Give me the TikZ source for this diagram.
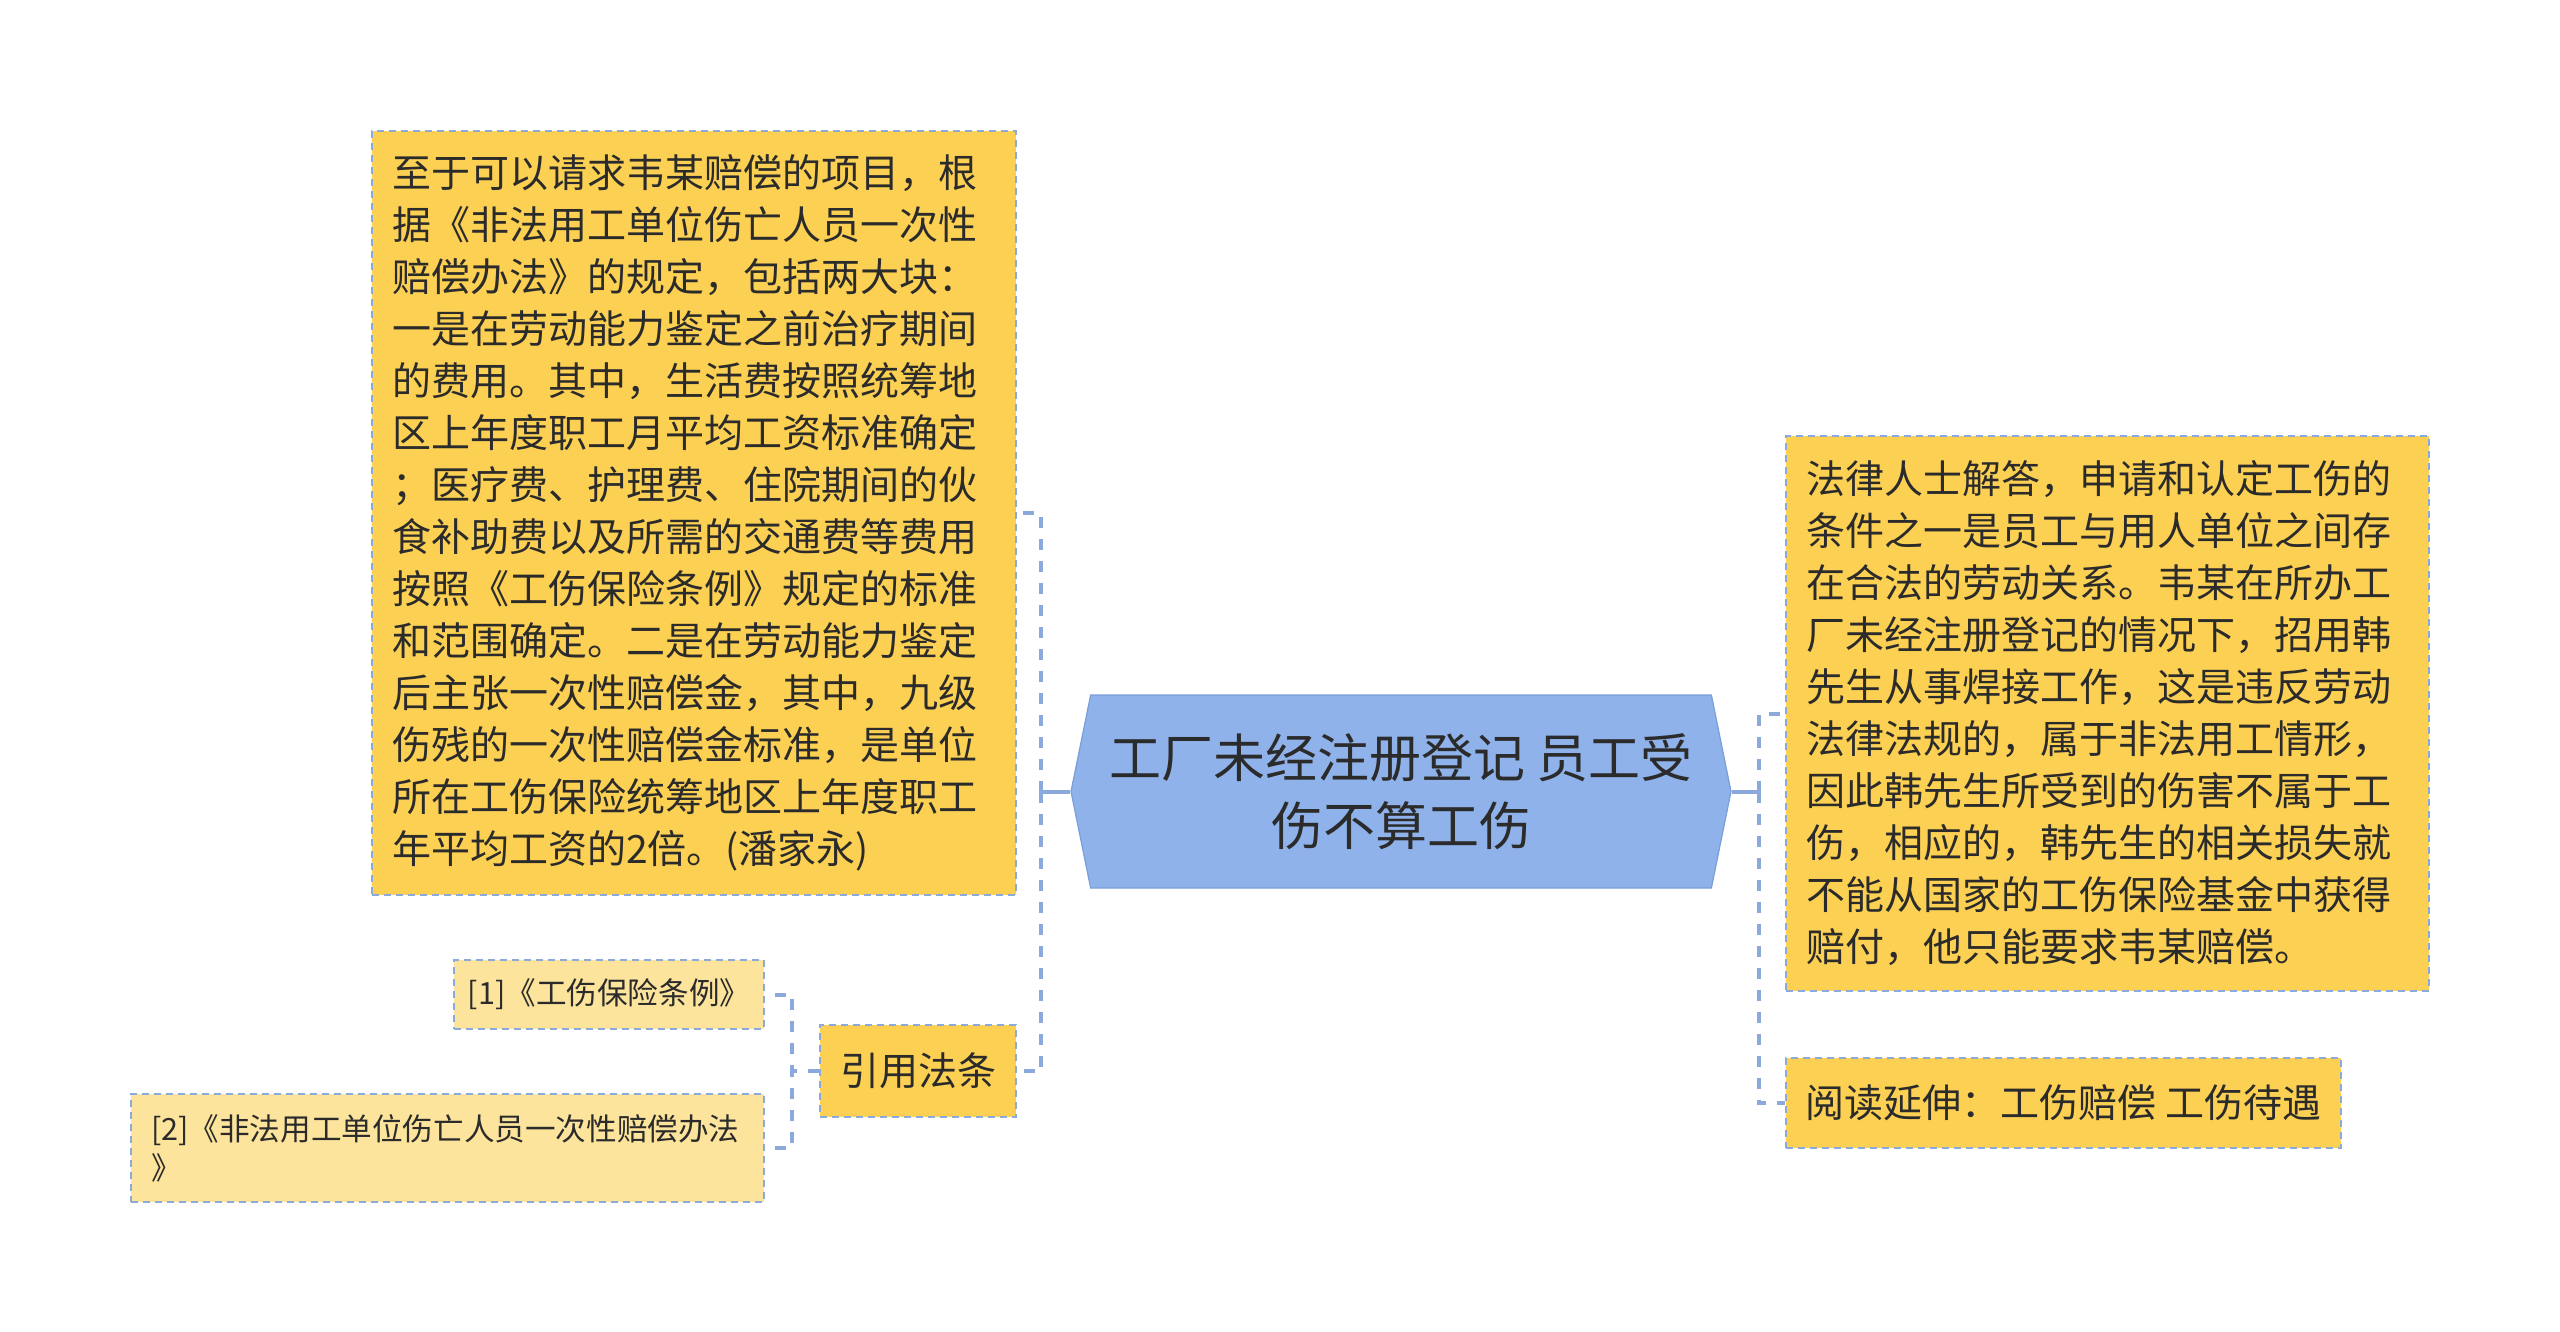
\documentclass[tikz,border=0pt]{standalone}
\usepackage{fontspec}
\setmainfont{Noto Sans CJK SC}
\usetikzlibrary{shapes.symbols}
\definecolor{boxfill}{HTML}{FCD053}
\definecolor{reffill}{HTML}{FDE49C}
\definecolor{rootfill}{HTML}{8FB2EA}
\definecolor{rootline}{HTML}{7A9ED8}
\definecolor{linkblue}{HTML}{8BAADB}
\definecolor{textdark}{HTML}{2B2B2B}
\begin{document}
\begin{tikzpicture}[x=1pt, y=-1pt, text=textdark,
	topic/.style={draw=linkblue, dash pattern=on 3.5pt off 2.5pt, line width=1pt, fill=boxfill, inner xsep=10pt, inner ysep=0pt, font=\fontsize{19.5}{26}\selectfont},
	bigtopic/.style={topic, align=left},
	reftopic/.style={topic, fill=reffill, font=\fontsize{15.3}{19.6}\selectfont, align=left},
	rootnode/.style={signal, signal to=west and east, signal pointer angle=157, draw=rootline, line width=.6pt, fill=rootfill, inner sep=0pt, align=center, font=\fontsize{26}{34}\selectfont},
	stub/.style={draw=linkblue, line width=2pt},
	link/.style={stub, dash pattern=on 5.5pt off 5.5pt}]
	\useasboundingbox (0,0) rectangle (1280,666);
	\node[rootnode, minimum width=330pt, minimum height=96.5pt] (root) at (700.5,395.75) {工厂未经注册登记 员工受\\伤不算工伤};
	\node[bigtopic, text width=302pt, minimum height=382pt] (detail) at (347,256.5) {至于可以请求韦某赔偿的项目，根\\据《非法用工单位伤亡人员一次性\\赔偿办法》的规定，包括两大块：\\一是在劳动能力鉴定之前治疗期间\\的费用。其中，生活费按照统筹地\\区上年度职工月平均工资标准确定\\；医疗费、护理费、住院期间的伙\\食补助费以及所需的交通费等费用\\按照《工伤保险条例》规定的标准\\和范围确定。二是在劳动能力鉴定\\后主张一次性赔偿金，其中，九级\\伤残的一次性赔偿金标准，是单位\\所在工伤保险统筹地区上年度职工\\年平均工资的2倍。(潘家永)};
	\node[topic, minimum width=98pt, minimum height=46pt, inner xsep=0pt] (refs) at (459,535.5) {引用法条};
	\node[reftopic, minimum width=155pt, minimum height=34.5pt, inner xsep=0pt] (ref1) at (304.5,497.25) {[1]《工伤保险条例》};
	\node[reftopic, text width=296.5pt, minimum height=54pt] (ref2) at (223.75,574) {[2]《非法用工单位伤亡人员一次性赔偿办法\\》};
	\node[bigtopic, text width=301.5pt, minimum height=277.5pt] (answer) at (1053.75,356.75) {法律人士解答，申请和认定工伤的\\条件之一是员工与用人单位之间存\\在合法的劳动关系。韦某在所办工\\厂未经注册登记的情况下，招用韩\\先生从事焊接工作，这是违反劳动\\法律法规的，属于非法用工情形，\\因此韩先生所受到的伤害不属于工\\伤，相应的，韩先生的相关损失就\\不能从国家的工伤保险基金中获得\\赔付，他只能要求韦某赔偿。};
	\node[topic, minimum width=277.5pt, minimum height=45pt, inner xsep=0pt] (more) at (1031.75,551.5) {阅读延伸：工伤赔偿 工伤待遇};
	\draw[stub] (root.west) -- ++(-14.5,0) coordinate (lhub);
	\draw[stub] (root.east) -- ++(13.5,0) coordinate (rhub);
	\draw[link] (lhub) |- (detail.east);
	\draw[link] (lhub) |- (refs.east);
	\draw[link] (rhub) |- (answer.west);
	\draw[link] (rhub) |- (more.west);
	\draw[link] (refs.west) -- ++(-13.5,0) |- (ref1.east);
	\draw[link] (refs.west) -- ++(-13.5,0) |- (ref2.east);
\end{tikzpicture}
\end{document}
